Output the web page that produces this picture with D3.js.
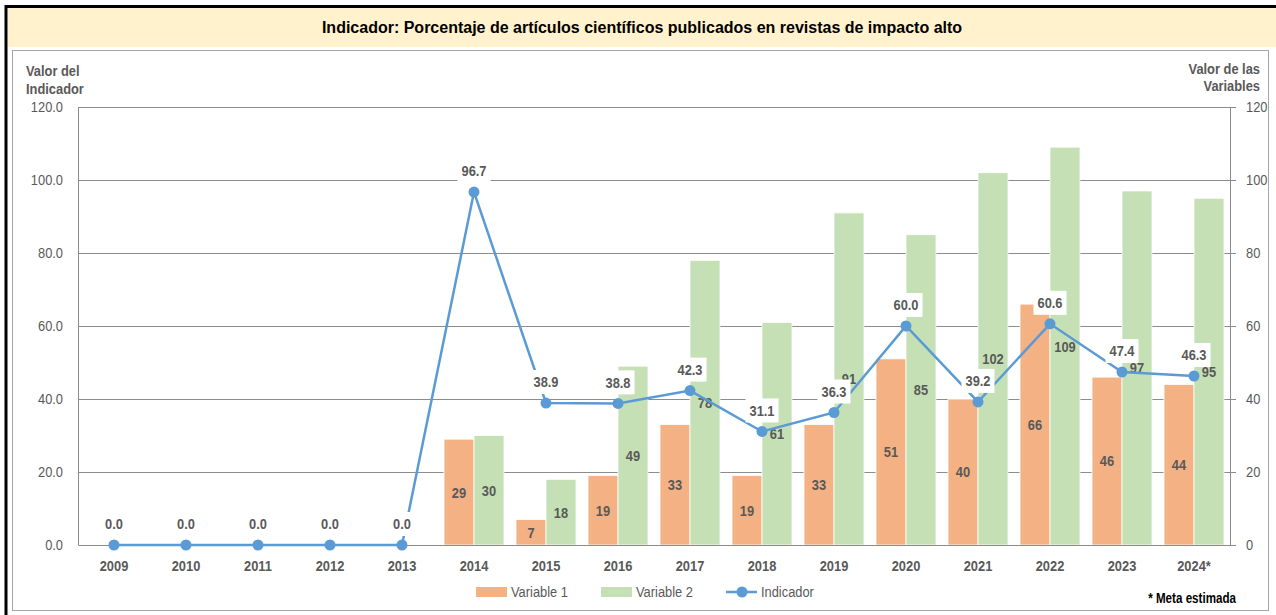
<!DOCTYPE html>
<html>
<head>
<meta charset="utf-8">
<script src="https://cdn.jsdelivr.net/npm/d3@7"></script>
<style>
  html, body { margin: 0; padding: 0; background: #fff; }
  svg { display: block; }
</style>
</head>
<body>
<svg id="chart" width="1276" height="615"></svg>
<script>
const years = ["2009", "2010", "2011", "2012", "2013", "2014", "2015", "2016", "2017", "2018", "2019", "2020", "2021", "2022", "2023", "2024*"];
const variable1 = [null, null, null, null, null, 29, 7, 19, 33, 19, 33, 51, 40, 66, 46, 44];
const variable2 = [null, null, null, null, null, 30, 18, 49, 78, 61, 91, 85, 102, 109, 97, 95];
const indicador = [0.0, 0.0, 0.0, 0.0, 0.0, 96.7, 38.9, 38.8, 42.3, 31.1, 36.3, 60.0, 39.2, 60.6, 47.4, 46.3];
const leftTicks = [0, 20, 40, 60, 80, 100, 120];
const rightTicks = [0, 20, 40, 60, 80, 100, 120];

// no Arial Narrow here: squeeze Liberation Sans horizontally instead
const FONT = "'Liberation Sans', Arial, sans-serif";
const SX = 0.83;
const TEXT = "#595959";
const GRID = "#8c8c8c";
const C1 = "#F4B183", C2 = "#C5E0B4", CL = "#5B9BD5";

function narrow(sel) {
    sel.each(function() {
        const t = d3.select(this);
        t.attr("x", (+t.attr("x") || 0) / SX)
            .attr("transform", (t.attr("transform") || "") + ` scale(${SX},1)`);
        t.selectAll("tspan").each(function() {
            const s = d3.select(this);
            if (s.attr("x") != null) s.attr("x", +s.attr("x") / SX);
        });
    });
}

const svg = d3.select("#chart");
const W = 1276, H = 615;
const margin = { top: 107, right: W - 1230, bottom: H - 545, left: 78 };

// frame
svg.append("rect").attr("x", 8).attr("y", 8).attr("width", W - 8).attr("height", 39).attr("fill", "#FFF2CC");
svg.append("line").attr("x1", 6).attr("x2", W).attr("y1", 6.5).attr("y2", 6.5).attr("stroke", "#000").attr("stroke-width", 3);
svg.append("line").attr("x1", 6).attr("x2", 6).attr("y1", 5).attr("y2", H).attr("stroke", "#000").attr("stroke-width", 3);
svg.append("rect").attr("x", 12.5).attr("y", 50.5).attr("width", 1256).attr("height", 560)
    .attr("fill", "none").attr("stroke", "#a6a6a6");

svg.append("text")
    .attr("x", 642).attr("y", 27).attr("dy", "0.35em")
    .attr("text-anchor", "middle")
    .attr("font-family", FONT)
    .attr("font-weight", "bold").attr("font-size", "16px").attr("fill", "#000")
    .text("Indicador: Porcentaje de artículos científicos publicados en revistas de impacto alto");

const x = d3.scaleBand().domain(years).range([margin.left, W - margin.right]);
const xs = d3.scaleBand().domain(["v1", "v2"]).range([6, x.bandwidth() - 6]);
const yL = d3.scaleLinear().domain([0, 120]).range([H - margin.bottom, margin.top]);
const yR = d3.scaleLinear().domain([0, 120]).range([H - margin.bottom, margin.top]);

// gridlines
svg.append("g").selectAll("line").data(leftTicks.slice(1)).join("line")
    .attr("x1", margin.left).attr("x2", W - margin.right)
    .attr("y1", d => Math.round(yL(d)) + 0.5).attr("y2", d => Math.round(yL(d)) + 0.5)
    .attr("stroke", GRID);

// left axis
svg.append("g")
    .attr("transform", `translate(${margin.left},0)`)
    .call(d3.axisLeft(yL).tickValues(leftTicks).tickFormat(d3.format(".1f")).tickSize(0).tickPadding(15))
    .call(g => g.select(".domain").attr("stroke", GRID))
    .call(g => g.selectAll("text").attr("font-family", FONT).attr("font-size", "15.5px").attr("fill", TEXT).call(narrow));

// right axis
svg.append("g")
    .attr("transform", `translate(${W - margin.right},0)`)
    .call(d3.axisRight(yR).tickValues(rightTicks).tickFormat(d3.format("d")).tickSize(6).tickPadding(10))
    .call(g => g.select(".domain").attr("stroke", GRID))
    .call(g => g.selectAll("line").attr("stroke", GRID))
    .call(g => g.selectAll("text").attr("font-family", FONT).attr("font-size", "15.5px").attr("fill", TEXT).call(narrow));

// axis titles
const lt = svg.append("text").attr("font-family", FONT).attr("font-weight", "bold")
    .attr("font-size", "15.5px").attr("fill", TEXT);
lt.append("tspan").attr("x", 26).attr("y", 71).attr("dy", "0.35em").text("Valor del");
lt.append("tspan").attr("x", 26).attr("y", 89).attr("dy", "0.35em").text("Indicador");
lt.call(narrow);
const rt = svg.append("text").attr("font-family", FONT).attr("font-weight", "bold")
    .attr("font-size", "15.5px").attr("fill", TEXT).attr("text-anchor", "end");
rt.append("tspan").attr("x", 1260).attr("y", 69).attr("dy", "0.35em").text("Valor de las");
rt.append("tspan").attr("x", 1260).attr("y", 86).attr("dy", "0.35em").text("Variables");
rt.call(narrow);

// bars
const rows = years.map((y, i) => ({ year: y, v1: variable1[i], v2: variable2[i], ind: indicador[i] }));
const barData = rows.flatMap(r => [
    { year: r.year, key: "v1", value: r.v1, color: C1 },
    { year: r.year, key: "v2", value: r.v2, color: C2 }
]).filter(d => d.value != null);

svg.append("g").selectAll("rect").data(barData).join("rect")
    .attr("x", d => x(d.year) + xs(d.key))
    .attr("y", d => yR(d.value))
    .attr("width", xs.bandwidth())
    .attr("height", d => yR(0) - yR(d.value))
    .attr("fill", d => d.color)
    .attr("stroke", "#fff").attr("stroke-width", 0.8);

// bottom axis
svg.append("g")
    .attr("transform", `translate(0,${yL(0)})`)
    .call(d3.axisBottom(x).tickSize(0))
    .call(g => g.select(".domain").attr("stroke", GRID))
    .call(g => g.selectAll("text").attr("y", 21).attr("dy", "0.35em")
        .attr("font-family", FONT).attr("font-weight", "bold").attr("font-size", "15.5px").attr("fill", TEXT)
        .each(function() {
            const t = d3.select(this);
            t.attr("transform", `translate(0,21) scale(${SX},1)`).attr("y", 0);
        }));

// bar labels
svg.append("g").selectAll("text").data(barData).join("text")
    .attr("transform", d => `translate(${x(d.year) + xs(d.key) + xs.bandwidth() / 2},${(yR(d.value) + yR(0)) / 2}) scale(${SX},1)`)
    .attr("dy", "0.35em").attr("text-anchor", "middle")
    .attr("font-family", FONT).attr("font-weight", "bold").attr("font-size", "15.5px").attr("fill", TEXT)
    .text(d => d.value);

// indicator line
const line = d3.line().x(d => x(d.year) + x.bandwidth() / 2).y(d => yL(d.ind));
svg.append("path").datum(rows).attr("d", line)
    .attr("fill", "none").attr("stroke", CL).attr("stroke-width", 2.5);
svg.append("g").selectAll("circle").data(rows).join("circle")
    .attr("cx", d => x(d.year) + x.bandwidth() / 2).attr("cy", d => yL(d.ind))
    .attr("r", 5.5).attr("fill", CL);

// indicator labels with white boxes
const lab = svg.append("g").selectAll("g").data(rows).join("g")
    .attr("transform", d => `translate(${x(d.year) + x.bandwidth() / 2},${yL(d.ind) - 21})`);
lab.append("rect");
lab.append("text").attr("dy", "0.35em").attr("text-anchor", "middle")
    .attr("transform", `scale(${SX},1)`)
    .attr("font-family", FONT).attr("font-weight", "bold").attr("font-size", "15.5px").attr("fill", TEXT)
    .text(d => d3.format(".1f")(d.ind));
lab.each(function() {
    const w = d3.select(this).select("text").node().getComputedTextLength() * SX;
    d3.select(this).select("rect")
        .attr("x", -w / 2 - 4).attr("y", -12).attr("width", w + 8).attr("height", 24).attr("fill", "#fff");
});

// legend
const leg = svg.append("g").attr("font-family", FONT).attr("font-size", "15.5px").attr("fill", TEXT);
const legItems = [
    { label: "Variable 1", x: 476, type: "bar", color: C1 },
    { label: "Variable 2", x: 601, type: "bar", color: C2 },
    { label: "Indicador", x: 726, type: "line", color: CL }
];
legItems.forEach(it => {
    if (it.type === "bar") {
        leg.append("rect").attr("x", it.x).attr("y", 587).attr("width", 31).attr("height", 10).attr("fill", it.color);
    } else {
        leg.append("line").attr("x1", it.x).attr("x2", it.x + 31).attr("y1", 592).attr("y2", 592)
            .attr("stroke", it.color).attr("stroke-width", 2.5);
        leg.append("circle").attr("cx", it.x + 16).attr("cy", 592).attr("r", 5.5).attr("fill", it.color);
    }
    leg.append("text").attr("x", it.x + 35).attr("y", 592).attr("dy", "0.35em").text(it.label).call(narrow);
});

svg.append("text")
    .attr("x", 1236).attr("y", 598).attr("dy", "0.35em").attr("text-anchor", "end")
    .attr("font-family", FONT).attr("font-weight", "bold").attr("font-size", "14px").attr("fill", "#000")
    .text("* Meta estimada").call(narrow);
</script>
</body>
</html>
